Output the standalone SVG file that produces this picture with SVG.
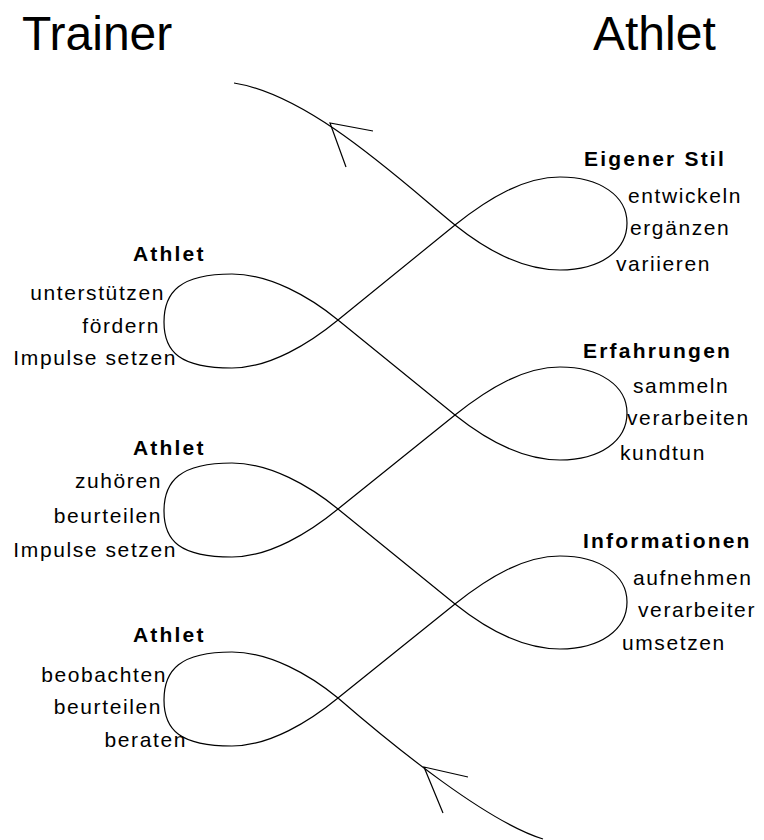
<svg xmlns="http://www.w3.org/2000/svg" width="764" height="840" viewBox="0 0 764 840">
<style>
text{font-family:"Liberation Sans",Arial,sans-serif;fill:#000}
.title{font-size:48px}
.head{font-size:21px;font-weight:bold;letter-spacing:2.2px}
.lbl{font-size:21px;letter-spacing:1.6px}
.end{text-anchor:end}
.line{fill:none;stroke:#000;stroke-width:1.2}
</style>
<rect width="764" height="840" fill="#fff"/>
<g id="connectors">
<path class="line" d="M543,839 C488,822 398,750 338,698
C310,675 270,652 232,652 C180,652 164,670 164,700 C164,730 180,746 232,746 C270,746 310,721 338,698
L455,604
C490,576 525,556 560,556 C600,556 627,575 627,602 C627,630 600,649 560,649 C525,649 490,632 455,604
L338,509
C310,486 270,463 232,463 C180,463 164,481 164,511 C164,541 180,557 232,557 C270,557 310,532 338,509
L455,415
C490,387 525,367 560,367 C600,367 627,386 627,413 C627,441 600,460 560,460 C525,460 490,443 455,415
L338,320
C310,297 270,274 232,274 C180,274 164,292 164,322 C164,352 180,368 232,368 C270,368 310,343 338,320
L455,225
C490,197 525,177 560,177 C600,177 627,196 627,223 C627,251 600,270 560,270 C525,270 490,253 455,225
C400,180 310,95 234,83"/>
<polyline class="line" points="373,131 330,123 346,167"/>
<polyline class="line" points="468,777 424,767 443,813"/>
</g>
<g id="title-trainer"><text class="title" x="22" y="50">Trainer</text></g>
<g id="title-athlet"><text class="title" x="593" y="50">Athlet</text></g>
<g id="trainer-1">
<text class="head" x="133" y="261">Athlet</text>
<text class="lbl end" x="165" y="300">unterstützen</text>
<text class="lbl end" x="160" y="333">fördern</text>
<text class="lbl end" x="177" y="365">Impulse setzen</text>
</g>
<g id="trainer-2">
<text class="head" x="133" y="455">Athlet</text>
<text class="lbl end" x="162" y="488">zuhören</text>
<text class="lbl end" x="162" y="523">beurteilen</text>
<text class="lbl end" x="177" y="557">Impulse setzen</text>
</g>
<g id="trainer-3">
<text class="head" x="133" y="642">Athlet</text>
<text class="lbl end" x="167" y="682">beobachten</text>
<text class="lbl end" x="162" y="714">beurteilen</text>
<text class="lbl end" x="187" y="747">beraten</text>
</g>
<g id="athlet-1">
<text class="head" x="584" y="166">Eigener Stil</text>
<text class="lbl" x="628" y="203">entwickeln</text>
<text class="lbl" x="630" y="235">ergänzen</text>
<text class="lbl" x="616" y="271">variieren</text>
</g>
<g id="athlet-2">
<text class="head" x="583" y="358">Erfahrungen</text>
<text class="lbl" x="633" y="393">sammeln</text>
<text class="lbl" x="627" y="425">verarbeiten</text>
<text class="lbl" x="620" y="460">kundtun</text>
</g>
<g id="athlet-3">
<text class="head" x="583" y="548">Informationen</text>
<text class="lbl" x="633" y="585">aufnehmen</text>
<text class="lbl" x="638" y="617">verarbeiter</text>
<text class="lbl" x="622" y="650">umsetzen</text>
</g>
</svg>
